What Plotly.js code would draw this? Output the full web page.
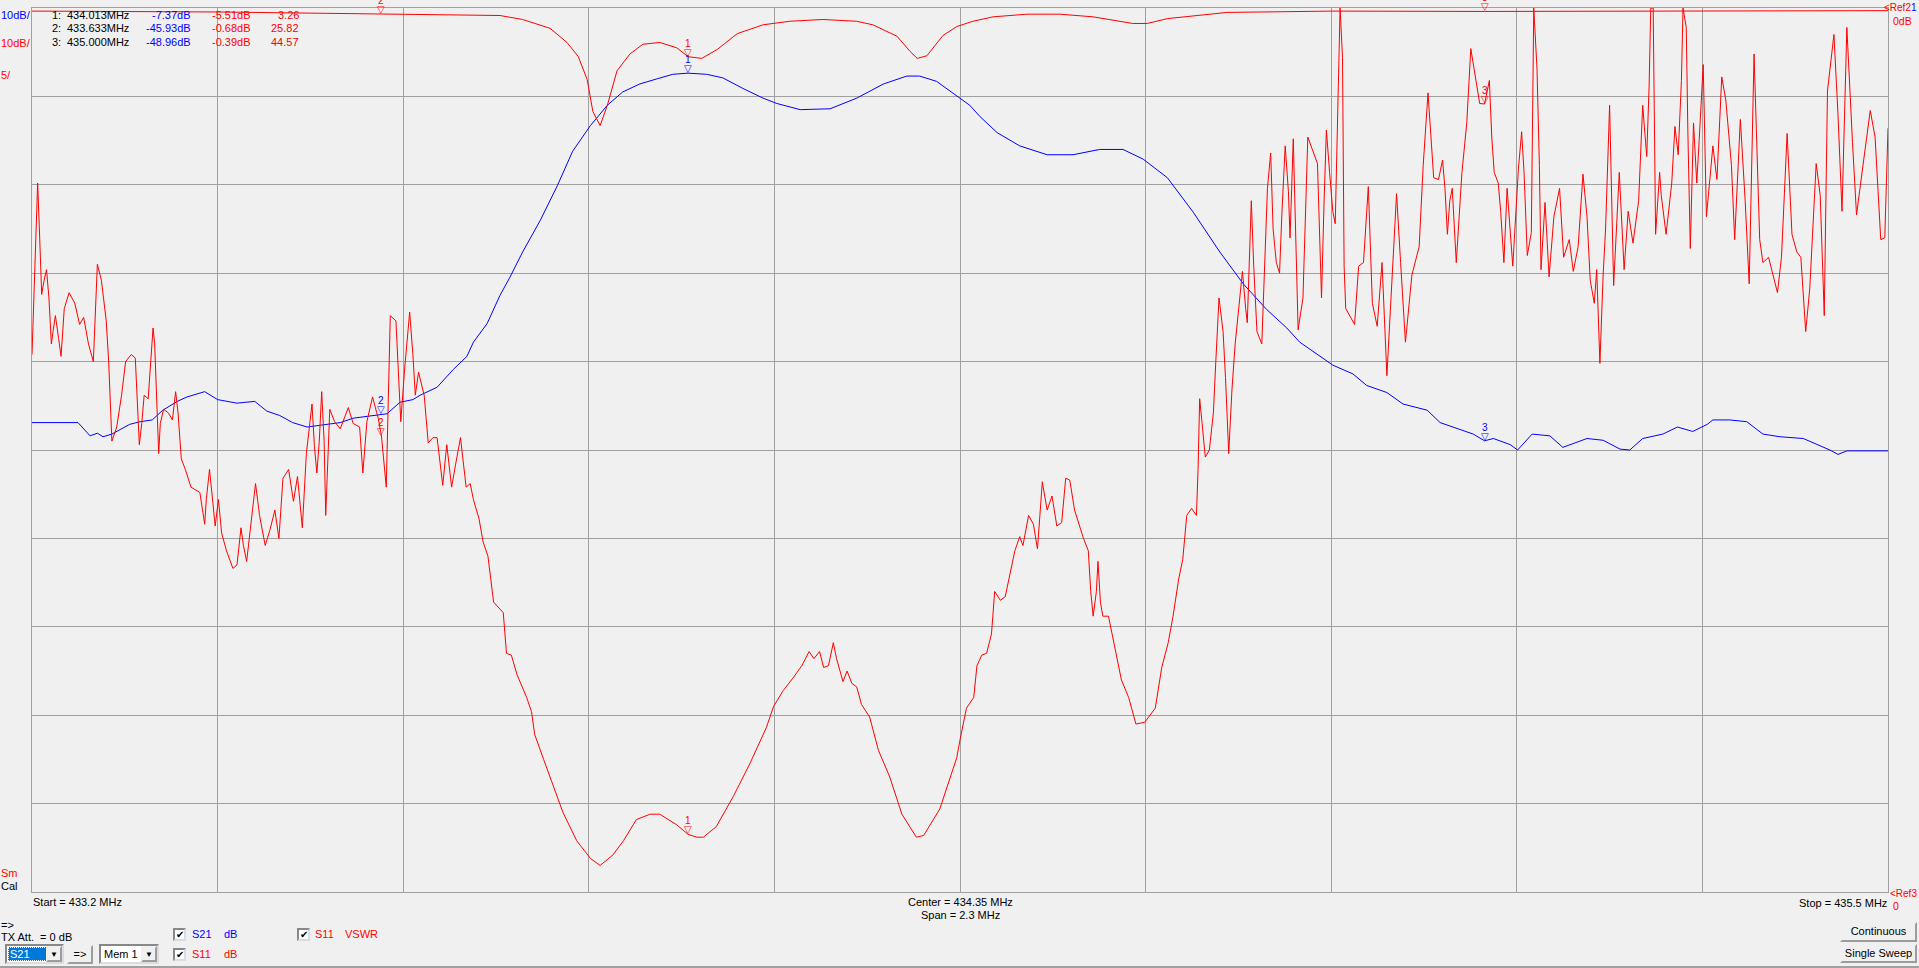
<!DOCTYPE html>
<html><head><meta charset="utf-8">
<script src="https://cdn.plot.ly/plotly-3.0.1.min.js"></script>
<style>
html,body{margin:0;padding:0;background:#f0f0f0;width:1919px;height:968px;overflow:hidden;font-family:"Liberation Sans",Arial,sans-serif;font-size:11px}
#chart{position:absolute;left:0;top:0;width:1919px;height:968px}
.ui{position:absolute;font-size:11px;line-height:13px;white-space:nowrap;color:#000}
.box{position:absolute;box-sizing:border-box;background:#fff;border:2px inset #dcdcdc}
.drop{position:absolute;box-sizing:border-box;background:#f0f0f0;border:2px outset #f0f0f0;font-size:8px;text-align:center;line-height:13px;color:#000}
.btn{position:absolute;box-sizing:border-box;background:#f0f0f0;border:2px outset #f0f0f0;text-align:center;font-size:11px;line-height:14px;color:#000}
.chk{position:absolute;box-sizing:border-box;width:13px;height:13px;background:#fff;border:2px inset #dcdcdc;font-size:10px;line-height:9px;text-align:center;color:#000}
#winline{position:absolute;left:0;top:966px;width:1919px;height:2px;background:#a0a0a0}
</style>
</head><body>
<div id="chart"></div>
<div class="ui" style="left:1px;top:919px">=&gt;</div>
<div class="ui" style="left:1px;top:931px">TX Att.&nbsp; = 0 dB</div>
<div class="box" style="left:5px;top:944px;width:59px;height:20px">
  <div style="position:absolute;left:1px;top:1px;width:37px;height:14px;background:#0078d7;color:#fff;font-size:11px;line-height:14px;padding-left:2px;outline:1px dotted #fff;outline-offset:-1px">S21</div>
  <div class="drop" style="left:39px;top:0px;width:16px;height:16px">&#9660;</div>
</div>
<div class="btn" style="left:67px;top:945px;width:26px;height:19px">=&gt;</div>
<div class="box" style="left:99px;top:944px;width:60px;height:20px">
  <div style="position:absolute;left:3px;top:1px;font-size:11px;line-height:14px;color:#000">Mem 1</div>
  <div class="drop" style="left:40px;top:0px;width:16px;height:16px">&#9660;</div>
</div>
<div class="chk" style="left:173px;top:928px">&#10004;</div>
<div class="ui" style="left:192px;top:928px;color:#0000ff">S21</div>
<div class="ui" style="left:224px;top:928px;color:#0000ff">dB</div>
<div class="chk" style="left:173px;top:948px">&#10004;</div>
<div class="ui" style="left:192px;top:948px;color:#ff0000">S11</div>
<div class="ui" style="left:224px;top:948px;color:#ff0000">dB</div>
<div class="chk" style="left:297px;top:928px">&#10004;</div>
<div class="ui" style="left:315px;top:928px;color:#ff0000">S11</div>
<div class="ui" style="left:345px;top:928px;color:#ff0000">VSWR</div>
<div class="btn" style="left:1840px;top:922px;width:77px;height:20px">Continuous</div>
<div class="btn" style="left:1840px;top:944px;width:77px;height:19px">Single Sweep</div>
<div id="winline"></div>
<script>
// ---------- data (frequency in MHz) ----------
const s21Freq = [433.200,433.257,433.272,433.281,433.288,433.299,433.321,433.334,433.349,433.362,433.380,433.392,433.414,433.430,433.454,433.476,433.491,433.507,433.523,433.541,433.557,433.582,433.598,433.615,433.633,433.640,433.656,433.672,433.681,433.702,433.722,433.739,433.747,433.764,433.780,433.792,433.808,433.830,433.851,433.870,433.892,433.913,433.932,433.953,433.975,433.994,434.013,434.036,434.056,434.081,434.106,434.123,434.152,434.189,434.222,434.255,434.284,434.300,434.321,434.346,434.362,434.375,434.396,434.424,434.458,434.490,434.523,434.552,434.577,434.607,434.639,434.672,434.701,434.730,434.755,434.771,434.787,434.812,434.837,434.854,434.879,434.899,434.929,434.945,434.986,435.000,435.011,435.032,435.041,435.059,435.081,435.097,435.127,435.147,435.168,435.180,435.196,435.221,435.239,435.258,435.276,435.283,435.304,435.325,435.345,435.366,435.395,435.428,435.438,435.449,435.500];
const s21dB = [-46.9,-46.9,-48.4,-48.1,-48.5,-48.2,-47.1,-46.8,-46.6,-45.5,-44.5,-44.0,-43.4,-44.3,-44.7,-44.5,-45.6,-46.1,-46.9,-47.4,-47.2,-46.9,-46.4,-46.2,-45.93,-45.9,-44.6,-44.3,-43.8,-42.9,-40.9,-39.4,-37.8,-35.7,-32.5,-30.5,-27.6,-24.0,-20.1,-16.2,-13.3,-11.0,-9.5,-8.6,-8.0,-7.5,-7.37,-7.5,-7.9,-9.1,-10.2,-10.8,-11.5,-11.4,-10.2,-8.6,-7.7,-7.7,-8.3,-9.9,-11.0,-12.3,-14.1,-15.6,-16.6,-16.6,-16.0,-16.0,-17.1,-19.2,-23.1,-27.6,-31.2,-34.1,-36.2,-37.8,-38.8,-40.4,-41.4,-42.7,-43.5,-44.8,-45.5,-46.9,-48.2,-48.96,-48.7,-49.4,-50.0,-48.2,-48.4,-49.7,-48.7,-48.9,-49.9,-50.0,-48.7,-48.2,-47.4,-47.9,-47.1,-46.6,-46.6,-46.8,-48.2,-48.5,-48.7,-50.0,-50.5,-50.1,-50.1];

const s11Freq = [433.200,433.430,433.633,433.780,433.808,433.842,433.863,433.877,433.888,433.895,433.904,433.913,433.925,433.941,433.957,433.978,433.999,434.013,434.030,434.049,434.074,434.106,434.139,434.180,434.222,434.242,434.272,434.288,434.297,434.309,434.329,434.346,434.366,434.391,434.433,434.474,434.515,434.564,434.582,434.607,434.681,434.812,435.000,435.500];
const s11dB = [-0.35,-0.45,-0.68,-0.85,-1.3,-2.3,-3.9,-5.5,-8.1,-11.7,-13.3,-11.0,-7.1,-5.2,-4.1,-3.9,-4.5,-5.51,-5.7,-4.7,-2.9,-1.9,-1.5,-1.3,-1.5,-1.9,-3.2,-4.9,-5.7,-5.4,-3.1,-2.1,-1.5,-1.0,-0.7,-0.7,-1.0,-1.75,-1.75,-1.2,-0.5,-0.35,-0.39,-0.3];

const vswrFreq = [433.200,433.202,433.207,433.209,433.212,433.215,433.218,433.221,433.224,433.226,433.229,433.233,433.236,433.240,433.246,433.253,433.259,433.264,433.270,433.276,433.278,433.281,433.286,433.292,433.295,433.297,433.299,433.305,433.311,433.316,433.323,433.328,433.330,433.333,433.336,433.339,433.344,433.347,433.350,433.352,433.354,433.357,433.359,433.363,433.369,433.374,433.378,433.381,433.385,433.390,433.397,433.408,433.414,433.416,433.420,433.423,433.427,433.431,433.435,433.441,433.449,433.454,433.459,433.462,433.466,433.470,433.477,433.482,433.489,433.495,433.501,433.506,433.511,433.518,433.524,433.529,433.535,433.540,433.547,433.550,433.553,433.556,433.559,433.562,433.564,433.569,433.575,433.582,433.592,433.598,433.606,433.610,433.615,433.622,433.629,433.633,433.639,433.641,433.644,433.651,433.654,433.657,433.662,433.668,433.672,433.675,433.679,433.686,433.691,433.697,433.702,433.709,433.714,433.720,433.725,433.731,433.738,433.743,433.747,433.754,433.759,433.765,433.772,433.784,433.788,433.794,433.801,433.813,433.819,433.823,433.834,433.844,433.858,433.875,433.892,433.904,433.920,433.933,433.949,433.966,433.978,433.999,434.013,434.024,434.032,434.048,434.069,434.090,434.110,434.119,434.131,434.143,434.154,434.163,434.169,434.176,434.181,434.187,434.193,434.197,434.205,434.210,434.216,434.222,434.228,434.238,434.249,434.263,434.278,434.296,434.305,434.325,434.346,434.350,434.358,434.367,434.371,434.377,434.383,434.389,434.393,434.400,434.406,434.418,434.424,434.428,434.435,434.441,434.446,434.449,434.452,434.458,434.464,434.470,434.476,434.481,434.486,434.492,434.503,434.509,434.512,434.515,434.519,434.521,434.524,434.527,434.534,434.542,434.550,434.559,434.568,434.579,434.592,434.600,434.608,434.614,434.621,434.626,434.631,434.637,434.643,434.645,434.647,434.650,434.654,434.659,434.664,434.667,434.671,434.676,434.679,434.683,434.687,434.691,434.695,434.700,434.704,434.706,434.708,434.711,434.714,434.718,434.724,434.728,434.731,434.735,434.738,434.742,434.746,434.749,434.753,434.757,434.759,434.763,434.766,434.769,434.775,434.781,434.793,434.796,434.798,434.801,434.804,434.808,434.812,434.815,434.818,434.821,434.824,434.826,434.828,434.839,434.844,434.850,434.856,434.861,434.867,434.873,434.879,434.887,434.891,434.896,434.902,434.910,434.919,434.924,434.930,434.937,434.943,434.948,434.951,434.954,434.957,434.960,434.965,434.972,434.978,434.983,434.988,434.994,435.000,435.006,435.009,435.012,435.017,435.020,435.024,435.028,435.035,435.042,435.046,435.049,435.053,435.058,435.061,435.065,435.068,435.070,435.075,435.080,435.086,435.093,435.098,435.105,435.110,435.116,435.122,435.127,435.131,435.136,435.139,435.143,435.147,435.150,435.155,435.160,435.167,435.173,435.178,435.184,435.191,435.196,435.201,435.204,435.206,435.209,435.212,435.217,435.219,435.225,435.232,435.236,435.240,435.244,435.246,435.250,435.252,435.255,435.259,435.263,435.266,435.271,435.275,435.283,435.288,435.294,435.299,435.306,435.310,435.317,435.323,435.328,435.334,435.341,435.345,435.352,435.363,435.368,435.375,435.381,435.387,435.392,435.398,435.403,435.411,435.416,435.421,435.425,435.433,435.438,435.443,435.449,435.456,435.461,435.469,435.478,435.484,435.491,435.496,435.500];
const vswrVal = [30.4,33.3,40.1,37.7,33.8,34.6,35.2,33.6,31.0,31.7,32.6,31.3,30.3,33.0,33.9,33.3,32.1,32.5,31.0,30.0,32.3,35.5,34.6,32.3,30.0,27.8,25.5,26.3,28.1,30.0,30.4,30.2,28.1,25.3,26.5,28.1,27.9,29.7,31.9,31.0,28.1,24.8,26.5,27.3,27.1,26.7,28.3,27.1,24.5,23.9,22.9,22.6,20.8,22.2,23.9,22.6,20.7,22.2,20.3,19.3,18.3,18.5,20.6,19.6,18.7,20.3,23.1,21.3,19.6,20.5,21.6,20.0,23.4,23.9,22.1,23.5,20.6,24.8,27.6,25.2,23.7,25.5,28.3,25.5,21.3,27.3,26.6,26.2,27.4,26.5,26.3,23.7,26.6,28.0,26.8,25.82,22.9,26.8,32.6,32.3,29.4,26.6,29.7,32.8,30.4,28.1,29.4,28.1,25.4,25.7,25.7,23.0,25.3,22.9,24.2,25.7,22.9,23.1,22.2,21.1,19.8,19.0,16.4,15.8,13.5,13.4,12.3,11.0,10.2,8.9,7.5,6.3,4.5,2.9,1.9,1.5,2.1,2.9,4.1,4.4,4.4,3.8,3.26,3.1,3.1,3.7,5.4,7.3,9.3,10.5,11.4,12.1,12.8,13.6,13.2,13.6,12.7,12.8,14.1,13.2,11.9,12.5,11.8,11.6,10.6,9.9,8.0,6.5,4.4,3.1,3.2,4.7,7.6,8.6,10.4,11.0,12.8,13.4,13.5,14.6,17.0,16.5,16.7,19.3,20.1,19.6,21.3,20.8,19.4,21.3,23.2,21.6,22.4,20.7,20.9,23.4,23.3,21.6,20.0,19.3,17.0,15.6,17.0,18.7,16.4,15.6,15.6,13.8,12.0,11.0,9.5,9.6,10.4,12.7,14.1,15.6,17.7,18.8,21.3,21.7,21.3,23.9,27.9,26.5,24.6,25.0,27.1,30.0,33.6,31.7,29.1,24.8,28.4,31.0,33.0,35.1,33.0,32.2,34.9,39.1,35.4,31.7,31.0,36.5,39.8,41.8,37.5,35.6,35.0,38.5,42.2,39.6,37.0,42.6,36.9,31.8,33.6,42.7,41.2,36.4,33.6,38.8,43.1,40.7,38.5,37.8,43.7,50.0,47.2,35.4,33.0,32.1,35.4,35.6,39.9,33.3,32.0,35.6,29.2,36.5,39.5,35.6,31.1,34.9,36.5,41.1,45.2,40.4,40.3,41.4,39.8,37.2,39.1,39.8,35.6,40.7,43.5,47.7,46.3,44.6,44.57,45.9,42.7,40.7,40.1,38.5,35.6,39.8,35.4,40.9,43.0,40.7,36.0,37.3,50.0,46.6,41.1,35.2,39.0,34.8,38.2,39.8,35.9,36.9,35.1,36.5,40.6,38.2,34.6,33.3,35.2,29.9,34.9,37.5,44.5,34.3,40.7,35.2,38.5,36.7,39.1,44.5,41.6,45.6,50.0,50.0,37.2,40.7,39.4,37.2,40.1,43.3,41.7,45.9,50.0,48.9,43.0,36.4,43.5,40.1,42.5,46.8,38.2,42.2,40.3,46.1,44.8,41.1,36.9,43.7,39.1,34.4,47.4,36.9,35.6,35.9,33.9,35.9,42.9,37.2,36.2,35.9,31.7,34.1,41.2,39.4,32.6,45.3,48.5,44.0,38.5,48.9,42.4,38.3,41.1,44.2,42.7,36.9,37.0,43.2];

const markerNum = ['1', '2', '3'];
const markerFreq = [434.013, 433.633, 435.000];
const markerS21 = [-7.37, -45.93, -48.96];
const markerS11 = [-5.51, -0.68, -0.39];
const markerVSWR = [3.26, 25.82, 44.57];

const startMHz = 433.2, stopMHz = 435.5, centerMHz = 434.35, spanMHz = 2.3;
const dBperDiv = 10, vswrPerDiv = 5, nDiv = 10;

// ---------- layout helpers (pixel -> paper) ----------
const PL = 32, PT = 8, PW = 1856, PH = 884;
const ax = px => (px - PL) / PW;
const ay = py => (PT + PH - py) / PH;
const BLUE = '#0000ff', RED = '#ff0000', BLACK = '#000000';
const FONT = '"Liberation Sans", Arial, sans-serif';

function lab(text, px, py, color, xanchor, size) {
  return {text: text, x: ax(px), y: ay(py), xref: 'paper', yref: 'paper',
    xanchor: xanchor || 'left', yanchor: 'middle', showarrow: false,
    font: {family: FONT, size: size || 11, color: color || BLACK}, borderpad: 0};
}

const annotations = [
  lab('10dB/', 0, 15, BLUE), lab('10dB/', 0, 43, RED), lab('5/', 0, 75, RED),
  lab('Sm', 0, 873, RED), lab('Cal', 0, 886, BLACK),
  lab('<span style="color:#ff0000">&lt;Ref2</span><span style="color:#0000ff">1</span>', 1918, 7, RED, 'right', 10),
  lab('0dB', 1892, 21, RED, 'left', 10.5),
  lab('&lt;Ref3', 1918, 893, RED, 'right', 10), lab('0', 1892, 906, RED, 'left', 10.5),
  lab('Start = ' + startMHz + ' MHz', 32, 902, BLACK),
  lab('Center = ' + centerMHz + ' MHz', 960, 902, BLACK, 'center'),
  lab('Span = ' + spanMHz + ' MHz', 960, 915, BLACK, 'center'),
  lab('Stop = ' + stopMHz + ' MHz', 1888, 903, BLACK, 'right')
];
// marker table
markerNum.forEach((n, i) => {
  const py = 15 + i * 13.3;
  annotations.push(lab(n + ':', 62, py, BLACK, 'right'));
  annotations.push(lab(markerFreq[i].toFixed(3) + 'MHz', 130, py, BLACK, 'right'));
  annotations.push(lab(markerS21[i].toFixed(2) + 'dB', 192, py, BLUE, 'right'));
  annotations.push(lab(markerS11[i].toFixed(2) + 'dB', 252, py, RED, 'right'));
  annotations.push(lab(markerVSWR[i].toFixed(2), 300, py, RED, 'right'));
});
// marker glyphs on traces
function mk(x, y, yref, color, n) {
  annotations.push({x: x, y: y, xref: 'x', yref: yref, text: '\u25BD', showarrow: false,
    xanchor: 'center', yanchor: 'bottom', yshift: -3, font: {family: '"DejaVu Sans"', size: 10, color: color}});
  annotations.push({x: x, y: y, xref: 'x', yref: yref, text: n, showarrow: false,
    xanchor: 'center', yanchor: 'bottom', yshift: 6, font: {family: FONT, size: 10, color: color}});
}
markerNum.forEach((n, i) => {
  mk(markerFreq[i], markerS21[i], 'y', BLUE, n);
  mk(markerFreq[i], markerS11[i], 'y', RED, n);
  mk(markerFreq[i], markerVSWR[i], 'y2', RED, n);
});

const traces = [
  {x: s21Freq, y: s21dB, type: 'scatter', mode: 'lines', name: 'S21 dB', line: {color: BLUE, width: 1}, yaxis: 'y'},
  {x: s11Freq, y: s11dB, type: 'scatter', mode: 'lines', name: 'S11 dB', line: {color: RED, width: 1}, yaxis: 'y'},
  {x: vswrFreq, y: vswrVal, type: 'scatter', mode: 'lines', name: 'S11 VSWR', line: {color: RED, width: 1}, yaxis: 'y2'}
];

const layout = {
  width: 1919, height: 968, autosize: false,
  margin: {l: PL, r: 1919 - PL - PW, t: PT, b: 968 - PT - PH, pad: 0},
  paper_bgcolor: 'rgba(0,0,0,0)', plot_bgcolor: '#f0f0f0',
  showlegend: false,
  font: {family: FONT, size: 11, color: BLACK},
  xaxis: {range: [startMHz, stopMHz], tick0: startMHz, dtick: spanMHz / nDiv, showticklabels: false, ticks: '',
    showgrid: true, gridcolor: '#a0a0a0', gridwidth: 1, zeroline: false,
    showline: true, mirror: true, linecolor: '#a0a0a0', linewidth: 1, fixedrange: true},
  yaxis: {range: [-dBperDiv * nDiv, 0], tick0: 0, dtick: dBperDiv, showticklabels: false, ticks: '',
    showgrid: true, gridcolor: '#a0a0a0', gridwidth: 1, zeroline: false,
    showline: true, mirror: true, linecolor: '#a0a0a0', linewidth: 1, fixedrange: true},
  yaxis2: {range: [0, vswrPerDiv * nDiv], overlaying: 'y', side: 'right', showticklabels: false, ticks: '',
    showgrid: false, zeroline: false, showline: false, fixedrange: true},
  annotations: annotations
};

Plotly.newPlot('chart', traces, layout, {displayModeBar: false, staticPlot: true});
</script>
</body></html>
